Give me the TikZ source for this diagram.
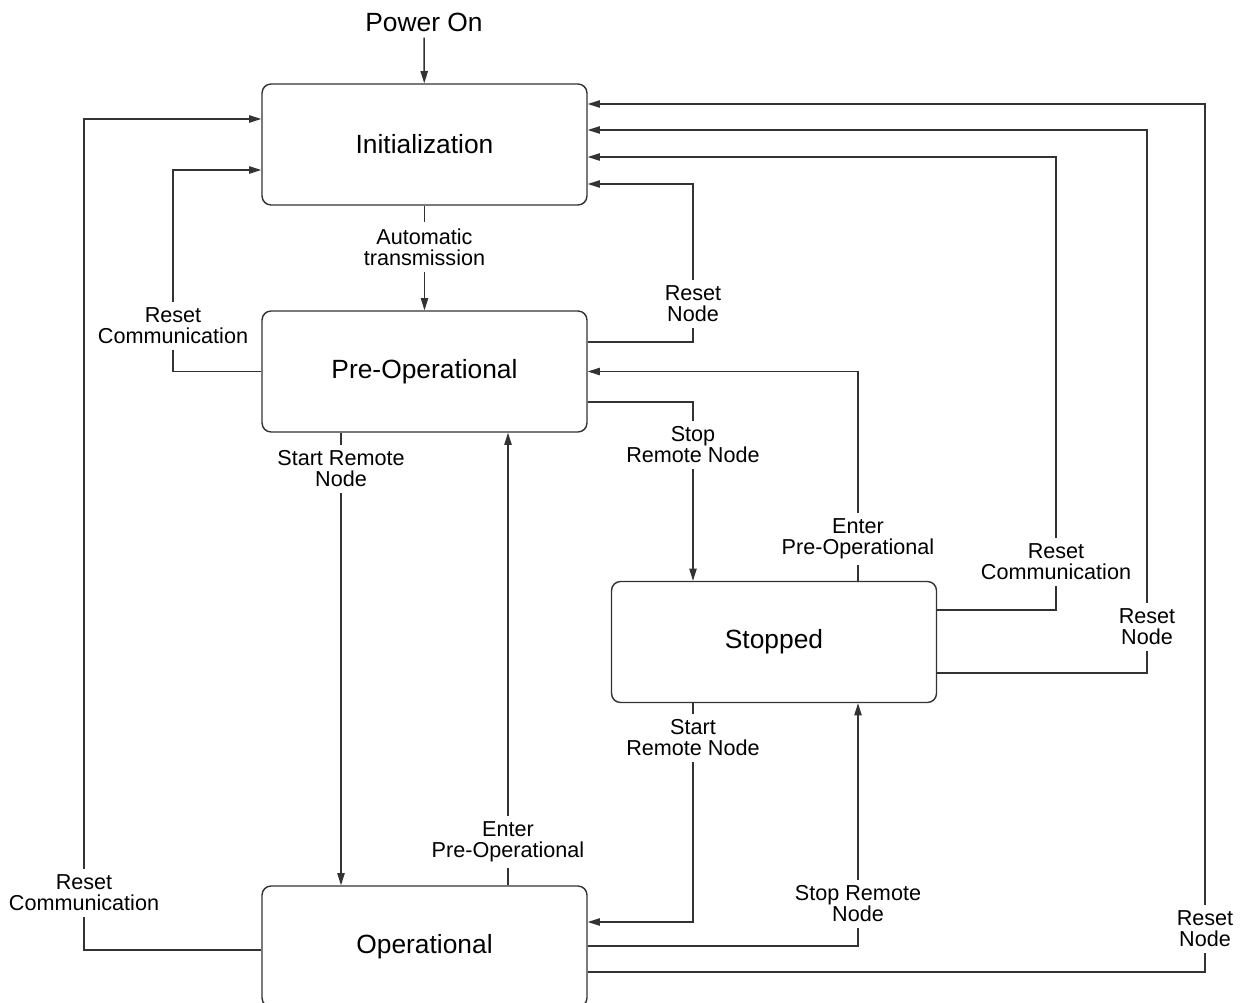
\documentclass[tikz,border=0pt]{standalone}
\usepackage{fontspec}
\setmainfont{Liberation Sans}
\usepackage{tikz}
\usetikzlibrary{arrows.meta,positioning}

\begin{document}
\begin{tikzpicture}[
x=0.02cm, y=-0.02cm,
font=\fontsize{15}{17}\selectfont,
state/.style={draw=black!80, line width=0.8pt, rounded corners=0.18cm, align=center, minimum width=6.5cm, minimum height=2.42cm},
lbl/.style={fill=white, align=center, inner sep=3.5pt, font=\fontsize{12.3}{12}\selectfont},
arr/.style={-{Triangle[length=7pt,width=4.2pt]}, draw=black!80, line width=0.8pt}
]
\useasboundingbox (0,0) rectangle (1242,1003);
\clip (0,0) rectangle (1242,1003);

% States
\node[state] (init) at (424.5,144.5) {Initialization};
\node[state] (pre) at (424.5,371.5) {Pre-Operational};
\node[state] (stop) at (774,642) {Stopped};
\node[state] (op) at (424.5,946.5) {Operational};

\node (pwr) at (424,22) {Power On};

% Transitions
\draw[arr] (pwr) -- (init);
\draw[arr] (init) -- (pre);

\draw[arr] (pre.west) -| (173,170) -- (init.west |- 0,170);
\draw[arr] (op.west |- 0,950) -| (84,119) -- (init.west |- 0,119);

\draw[arr] (pre.east |- 0,342) -| (693,184) -- (init.east |- 0,184);
\draw[arr] (pre.east |- 0,402) -| (stop.north -| 693,0);
\draw[arr] (stop.north -| 858,0) |- (pre.east);

\draw[arr] (stop.east |- 0,610) -| (1056,157) -- (init.east |- 0,157);
\draw[arr] (stop.east |- 0,673) -| (1147,130) -- (init.east |- 0,130);
\draw[arr] (op.east |- 0,972) -| (1205,104) -- (init.east |- 0,104);

\draw[arr] (pre.south -| 341,0) -- (op.north -| 341,0);
\draw[arr] (op.north -| 508,0) -- (pre.south -| 508,0);

\draw[arr] (stop.south -| 693,0) |- (op.east |- 0,922);
\draw[arr] (op.east |- 0,946) -| (stop.south -| 858,0);

% Labels (white boxes break the lines)
\node[lbl] (lblAuto) at (424.5,247) {Automatic\\transmission};
\node[lbl] (lblRcPre) at (173,326) {Reset\\Communication};
\node[lbl] (lblRcOp) at (84,893) {Reset\\Communication};
\node[lbl] (lblRnPre) at (693,304) {Reset\\Node};
\node[lbl] (lblStopPre) at (693,445) {Stop\\Remote Node};
\node[lbl] (lblEnterStop) at (858,539) {Enter\\Pre-Operational};
\node[lbl] (lblRcStop) at (1056,562) {Reset\\Communication};
\node[lbl] (lblRnStop) at (1147,627) {Reset\\Node};
\node[lbl] (lblRnOp) at (1205,929) {Reset\\Node};
\node[lbl] (lblStartPre) at (341,469) {Start Remote\\Node};
\node[lbl] (lblEnterOp) at (508,842) {Enter\\Pre-Operational};
\node[lbl] (lblStartStop) at (693,738) {Start\\Remote Node};
\node[lbl] (lblStopOp) at (858,904) {Stop Remote\\Node};

\end{tikzpicture}
\end{document}
